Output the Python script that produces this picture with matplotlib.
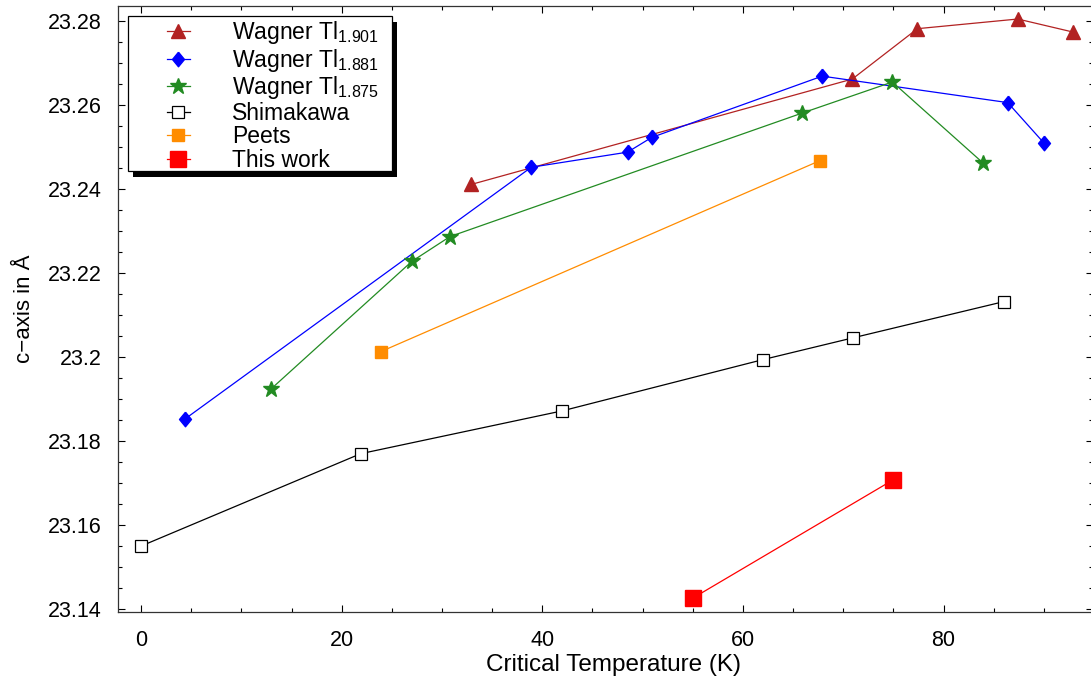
import matplotlib
matplotlib.use("Agg")
import matplotlib.pyplot as plt
from matplotlib.patches import Rectangle
from matplotlib.ticker import MultipleLocator, FuncFormatter
from matplotlib.legend_handler import HandlerLine2D

plt.rcParams['font.family'] = ['Liberation Sans', 'DejaVu Sans']
plt.rcParams['mathtext.fontset'] = 'custom'
plt.rcParams['mathtext.rm'] = 'Liberation Sans'
plt.rcParams['mathtext.it'] = 'Liberation Sans'

# ---- data ----
w1901_tc = [32.9, 70.9, 77.4, 87.4, 92.9]
w1901_c = [23.2411, 23.2662, 23.2782, 23.2805, 23.2774]

w1881_tc = [4.4, 38.9, 48.5, 50.9, 67.9, 86.4, 90.0]
w1881_c = [23.1853, 23.2452, 23.2488, 23.2523, 23.2669, 23.2606, 23.2510]

w1875_tc = [13.0, 27.0, 30.8, 65.9, 74.9, 83.9]
w1875_c = [23.1925, 23.2228, 23.2287, 23.2581, 23.2655, 23.2463]

shim_tc = [0.0, 21.9, 42.0, 62.0, 71.0, 86.0]
shim_c = [23.1550, 23.1770, 23.1872, 23.1994, 23.2046, 23.2132]

peets_tc = [23.9, 67.7]
peets_c = [23.2013, 23.2468]

this_tc = [55.0, 75.0]
this_c = [23.1426, 23.1708]

labels = ['Wagner Tl$_{1.901}$', 'Wagner Tl$_{1.881}$', 'Wagner Tl$_{1.875}$',
          'Shimakawa', 'Peets', 'This work']
xticks = [0, 20, 40, 60, 80]
yticks = [23.14, 23.16, 23.18, 23.20, 23.22, 23.24, 23.26, 23.28]


class ShortLineHandler(HandlerLine2D):
    """Draw a short line centred in a wider handle box."""
    def __init__(self, short=17, **kw):
        super().__init__(**kw)
        self.short = short

    def create_artists(self, legend, orig_handle, xdescent, ydescent,
                       width, height, fontsize, trans):
        xd = xdescent - (width - self.short) / 2.0
        return super().create_artists(legend, orig_handle, xd, ydescent,
                                      self.short, height, fontsize, trans)


diamond = [(0, 1), (0.82, 0), (0, -1), (-0.82, 0), (0, 1)]

fig = plt.figure(figsize=(10.91, 6.84), dpi=100)
ax_w = 975
ax = fig.add_axes([118/1091, 72/684, ax_w/1091, 606/684])

lines = []
lines += ax.plot(w1901_tc, w1901_c, color='#b22222', lw=0.9, marker='^', ms=9.5, label=labels[0])
lines += ax.plot(w1881_tc, w1881_c, color='#0000ff', lw=0.9, marker=diamond, ms=10.5, label=labels[1])
lines += ax.plot(w1875_tc, w1875_c, color='#228b22', lw=0.9, marker='*', ms=12, label=labels[2])
lines += ax.plot(shim_tc, shim_c, color='black', lw=0.9, marker='s', ms=8, mfc='white', mec='black', mew=0.9, label=labels[3])
lines += ax.plot(peets_tc, peets_c, color='#ff8c00', lw=0.9, marker='s', ms=8.5, label=labels[4])
lines += ax.plot(this_tc, this_c, color='#ff0000', lw=0.9, marker='s', ms=11.5, label=labels[5])

ax.set_xlim(-2.3, 94.9)
ax.set_ylim(23.1393, 23.2836)
ax.set_xticks(xticks)
ax.set_yticks(yticks)
ax.xaxis.set_minor_locator(MultipleLocator(5))
ax.yaxis.set_minor_locator(MultipleLocator(0.005))
ax.yaxis.set_major_formatter(FuncFormatter(lambda v, p: ('%.2f' % v).rstrip('0')))
ax.tick_params(which='both', direction='in', top=True, right=True, labelsize=15.5)
ax.tick_params(axis='y', pad=12)
ax.tick_params(axis='x', pad=13)
ax.tick_params(which='major', length=5, width=0.8)
ax.tick_params(which='minor', length=3, width=0.8)
for s in ax.spines.values():
    s.set_linewidth(0.9)
    s.set_color('#333333')

ax.set_xlabel('Critical Temperature (K)', fontsize=17.5, va='center')
ax.xaxis.set_label_coords((613.5 - 118) / ax_w, -0.087)
ax.set_ylabel('c\u2212axis in \u00c5', fontsize=16, labelpad=9)

handler = ShortLineHandler(short=17)
leg = ax.legend(handles=lines, loc='upper left', bbox_to_anchor=(10/ax_w, 1 - 10/606), fontsize=16.5,
                frameon=False,
                handlelength=4.1, handletextpad=0.3, borderpad=0.15, labelspacing=0.02,
                borderaxespad=0, markerscale=1.0,
                handler_map={l: handler for l in lines})
leg.set_zorder(6)

fig.canvas.draw()
bb = leg.get_window_extent()
inv = ax.transAxes.inverted()
fx0, fy0 = bb.x0, bb.y0 + 4
fx1, fy1 = bb.x1 + 9, bb.y1
(x0, y0) = inv.transform((fx0 + 5, fy0 - 6))
(x1, y1) = inv.transform((fx1 + 5, fy1 - 6))
ax.add_patch(Rectangle((x0, y0), x1 - x0, y1 - y0, transform=ax.transAxes,
                       facecolor='black', edgecolor='none', zorder=5.5, clip_on=False))
(x0, y0) = inv.transform((fx0, fy0))
(x1, y1) = inv.transform((fx1, fy1))
ax.add_patch(Rectangle((x0, y0), x1 - x0, y1 - y0, transform=ax.transAxes,
                       facecolor='white', edgecolor='black', lw=0.9, zorder=5.7, clip_on=False))

fig.savefig('out.png', dpi=100)
